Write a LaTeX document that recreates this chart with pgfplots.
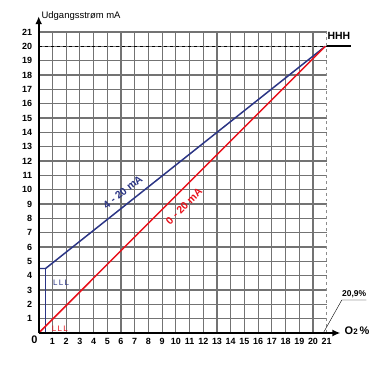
\documentclass[border=0pt]{standalone}
\usepackage{pgfplots}
\pgfplotsset{compat=1.18}
\usepackage{fontspec}
\setmainfont{Liberation Sans}
\usetikzlibrary{arrows.meta}
\definecolor{navy}{HTML}{2B3585}
\definecolor{myred}{HTML}{E8101A}
\begin{document}
\begin{tikzpicture}
\path[use as bounding box] (-38.7bp,-32bp) rectangle (340.3bp,333bp);
\begin{axis}[at={(0,0)}, anchor=south west, scale only axis, width=288bp, height=301bp,
 xmin=0,xmax=21,ymin=0,ymax=21, clip=false,
 axis line style={draw=none},
 xtick={1,...,20}, ytick={1,...,21},
 extra x ticks={21}, extra x tick style={grid=none},
 major tick length=0,
 grid=major, grid style={black!55, line width=1.2pt},
 tick label style={font=\fontsize{9}{10}\selectfont\bfseries},
 /pgf/number format/assume math mode=true,
 xticklabel style={yshift=-2bp},
 yticklabel style={xshift=-3bp},
]
\draw[black!45, dashed, line width=1.2pt] (axis cs:21,0) -- (axis cs:21,21);
\addplot[black, dashed, line width=1pt] coordinates {(0,20)(21,20)};
\addplot[black, line width=2pt] coordinates {(21,20)(22.8,20)};
\addplot[navy, line width=1.5pt] coordinates {(0,4.5)(0.5,4.5)(20.9,20)};
\addplot[navy, line width=1.5pt] coordinates {(0.5,0)(0.5,4.5)};
\addplot[myred, line width=1.5pt] coordinates {(0,0)(20.9,20)};
\draw[line width=2.2pt, -{Latex[length=8bp,width=7bp]}] (axis cs:0,0) -- (axis cs:0,22.1);
\draw[line width=2.2pt, -{Latex[length=8bp,width=7bp]}] (axis cs:0,0) -- (axis cs:22,0);
\draw[thin] (axis cs:20.75,0) -- (axis cs:22.1,2.3) -- (axis cs:23.9,2.3);
\node[anchor=south, font=\fontsize{8.5}{10}\selectfont\bfseries, inner sep=1bp] at (axis cs:23,2.35) {20,9\%};
\node[anchor=west, font=\fontsize{11}{12}\selectfont\bfseries, inner sep=0pt] at (axis cs:22.3,0.15) {O{\fontsize{8}{9}\selectfont 2}\,\%};
\node[anchor=west, font=\fontsize{10.5}{12}\selectfont\bfseries, inner sep=0pt] at (axis cs:21.05,20.75) {HHH};
\node[anchor=north east, font=\fontsize{11}{12}\selectfont\bfseries, inner sep=1bp] at (axis cs:0,-0.1) {0};
\node[anchor=west, font=\fontsize{9.5}{11}\selectfont, inner sep=0pt] at (axis cs:0.2,22.1) {Udgangsstrøm mA};
\node[rotate=38, text=navy, font=\fontsize{10.5}{12}\selectfont\bfseries] at (axis cs:6.13,9.84) {4 - 20 mA};
\node[rotate=45, text=myred, font=\fontsize{10.5}{12}\selectfont\bfseries] at (axis cs:10.6,8.85) {0 - 20 mA};
\node[text=navy, font=\fontsize{8}{9}\selectfont, anchor=west] at (axis cs:0.8,3.5) {L\,L\,L};
\node[text=myred, font=\fontsize{8}{9}\selectfont, anchor=west] at (axis cs:0.7,0.3) {L\,L\,L};
\end{axis}
\end{tikzpicture}
\end{document}
